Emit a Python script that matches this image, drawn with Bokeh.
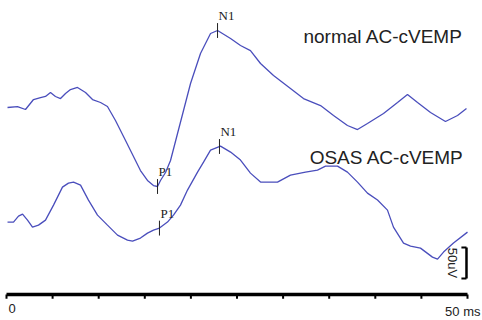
from bokeh.plotting import figure
from bokeh.models import Range1d
from bokeh.core.properties import value
from bokeh.embed import file_html
from bokeh.resources import INLINE
import numpy as np

# --- data (time in ms, amplitude in uV) ---
time_normal = [0.11, 1.19, 2.06, 2.93, 3.69, 4.23, 4.77, 5.31, 5.86, 6.40, 6.94, 7.70,
               8.57, 9.33, 10.20, 10.95, 11.82, 12.91, 13.99, 14.53, 15.29, 15.94, 16.38,
               16.70, 17.25, 17.79, 18.55, 19.20, 19.96, 21.04, 22.13, 22.89, 24.30, 25.38,
               26.46, 27.55, 28.96, 30.80, 32.21, 34.06, 35.47, 36.98, 38.07, 39.15, 40.89,
               42.41, 43.49, 44.58, 45.99, 47.61, 48.92, 49.89]
amp_normal = [1.6, 3.2, -1.6, 14.5, 17.7, 19.4, 25.8, 19.4, 16.1, 24.2, 30.6, 33.9,
              25.8, 14.5, 9.7, 3.2, -19.4, -51.6, -83.9, -100.0, -116.1, -124.2, -125.8,
              -116.1, -103.2, -83.9, -40.3, -3.2, 40.3, 88.7, 121.0, 125.8, 112.9, 101.6,
              93.5, 72.6, 53.2, 32.3, 16.1, 4.8, -11.3, -27.4, -33.9, -24.2, -8.1,
              9.7, 22.6, 9.7, -6.5, -21.0, -11.3, 0.0]

time_osas = [0.11, 0.76, 1.30, 1.74, 2.28, 2.82, 3.47, 4.23, 5.10, 6.07, 6.72, 7.27,
             8.03, 8.89, 9.87, 10.95, 12.04, 13.12, 13.67, 14.53, 15.29, 15.94, 16.59,
             17.46, 18.11, 18.87, 19.63, 20.72, 21.37, 22.13, 23.21, 24.30, 25.38, 26.46,
             27.55, 28.63, 29.39, 30.80, 32.43, 33.73, 34.60, 35.90, 36.98, 38.07, 39.15,
             40.24, 41.32, 41.97, 43.06, 43.82, 44.90, 46.20, 46.75, 47.40, 48.48, 50.00]
amp_osas = [-3.2, -3.2, 6.5, 9.7, 0.0, -11.3, -8.1, 0.0, 24.2, 53.2, 59.7, 61.3,
            56.5, 32.3, 8.1, -8.1, -24.2, -32.3, -33.9, -29.0, -21.0, -16.1, -12.9,
            -3.2, 8.1, 24.2, 48.4, 77.4, 93.5, 112.9, 119.4, 109.7, 96.8, 75.8,
            61.3, 61.3, 61.3, 72.6, 77.4, 80.6, 87.1, 87.1, 77.4, 61.3, 43.5,
            32.3, 16.1, -11.3, -37.1, -41.9, -45.2, -59.7, -62.9, -51.6, -37.1, -19.4]

trace_names = ["normal AC-cVEMP", "OSAS AC-cVEMP"]
trace_offsets = [300, 120]

peak_labels = ["P1", "N1", "P1", "N1"]
peak_ms = [16.38, 22.89, 16.59, 23.10]
peak_trace = [0, 0, 1, 1]

axis_ticks_ms = [0, 5, 10, 15, 20, 25, 30, 35, 40, 45, 50]
axis_tick_labels = ["0", "50 ms"]
scale_bar_uV = 50
scale_bar_label = "50uV"

# --- figure ---
W, H = 482, 320
PX_PER_MS = 9.22
UV_PER_PX = 1.613
x0 = -6 / PX_PER_MS
y_top = 294 * UV_PER_PX
p = figure(width=W, height=H, output_backend="svg", toolbar_location=None,
           x_range=Range1d(x0, x0 + W / PX_PER_MS),
           y_range=Range1d(y_top - H * UV_PER_PX, y_top),
           min_border=0, outline_line_color=None)
p.axis.visible = False
p.grid.visible = False
p.background_fill_color = "white"

line_color = "#4a4ebc"
traces = [(time_normal, amp_normal), (time_osas, amp_osas)]
for (t, a), off in zip(traces, trace_offsets):
    p.line(t, np.array(a) + off, line_color=line_color, line_width=1.3)

# trace names
p.text(x=[49.5, 49.6], y=[416, 221], text=trace_names,
       text_align="right", text_baseline="alphabetic",
       text_font=value("Liberation Sans"), text_font_size="19px", text_color="#222222")

# peak markers
mx, my0, my1 = [], [], []
for lab, ms, ti in zip(peak_labels, peak_ms, peak_trace):
    t, a = traces[ti]
    yv = float(np.interp(ms, t, a)) + trace_offsets[ti]
    mx.append(ms); my0.append(yv - 12); my1.append(yv + 12)
p.segment(x0=mx, y0=my0, x1=mx, y1=my1, line_color="#222222", line_width=1)
p.text(x=mx, y=my1, text=peak_labels, x_offset=1, text_align="left",
       text_baseline="bottom", text_font=value("Liberation Serif"),
       text_font_size="13px", text_color="#222222")

# time axis drawn at y = 0
p.segment(x0=[axis_ticks_ms[0]], y0=[0], x1=[axis_ticks_ms[-1]], y1=[0],
          line_color="black", line_width=3.5)
p.segment(x0=axis_ticks_ms, y0=[0] * len(axis_ticks_ms), x1=axis_ticks_ms,
          y1=[-7] * len(axis_ticks_ms), line_color="black", line_width=2)
p.text(x=[axis_ticks_ms[0]], y=[-15], text=[axis_tick_labels[0]], x_offset=2,
       text_align="left", text_baseline="top",
       text_font=value("Liberation Sans"), text_font_size="13px", text_color="#222222")
p.text(x=[axis_ticks_ms[-1]], y=[-15], text=[axis_tick_labels[1]], x_offset=13,
       text_align="right", text_baseline="top",
       text_font=value("Liberation Sans"), text_font_size="13px", text_color="#222222")

# amplitude scale bar
bx = 49.89
by0 = 26
p.segment(x0=[bx], y0=[by0], x1=[bx], y1=[by0 + scale_bar_uV], line_color="black", line_width=2.5)
p.segment(x0=[bx - 0.55, bx - 0.55], y0=[by0, by0 + scale_bar_uV],
          x1=[bx, bx], y1=[by0, by0 + scale_bar_uV], line_color="black", line_width=2)
p.text(x=[48.37], y=[by0 + scale_bar_uV / 2], text=[scale_bar_label], angle=-np.pi / 2,
       text_align="center", text_baseline="middle",
       text_font=value("Liberation Sans"), text_font_size="13px", text_color="#222222")

open("out.html", "w").write(file_html(p, INLINE))
